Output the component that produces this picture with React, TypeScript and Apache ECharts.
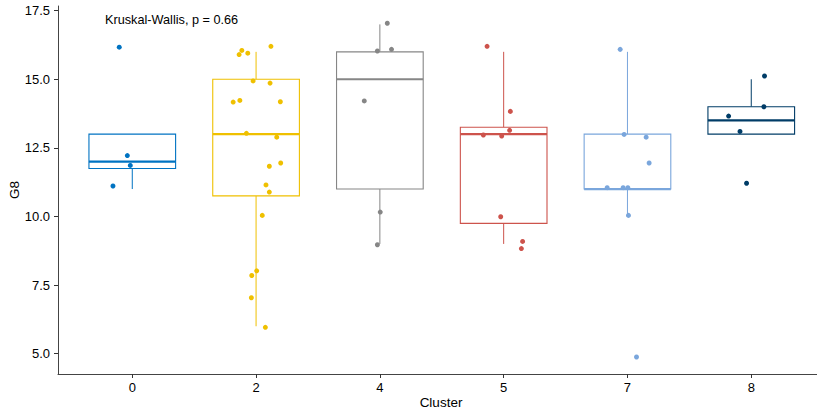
import React, { useEffect, useRef } from "react";
import * as echarts from "echarts";

const clusters = ["0", "2", "4", "5", "7", "8"];
const colors = ["#0073C2", "#EFC000", "#868686", "#CD534C", "#7AA6DC", "#003C67"];

// [lower whisker, Q1, median, Q3, upper whisker]
const boxStats = [
  [11.0, 11.75, 12.0, 13.0, 13.0],
  [6.0, 10.75, 13.0, 15.0, 16.0],
  [9.0, 11.0, 15.0, 16.0, 17.0],
  [9.0, 9.75, 13.0, 13.25, 16.0],
  [10.0, 11.0, 11.0, 13.0, 16.0],
  [13.0, 13.0, 13.5, 14.0, 15.0],
];

// observed G8 values per cluster
const values0 = [16.17, 12.22, 11.86, 11.11];
const values2 = [16.2, 16.05, 15.9, 15.95, 14.94, 14.86, 14.17, 14.23, 14.18, 13.03, 12.89, 11.95, 11.83, 11.15, 10.89, 10.04, 8.02, 7.85, 7.04, 5.96];
const values4 = [17.04, 16.03, 16.09, 14.21, 10.16, 8.97];
const values5 = [16.2, 13.83, 13.14, 12.97, 12.93, 9.99, 9.09, 8.83];
const values7 = [16.09, 12.99, 12.89, 11.95, 11.05, 11.05, 11.05, 10.04, 4.88];
const values8 = [15.12, 14.0, 13.66, 13.1, 11.21];

// horizontal jitter
const jitter0 = [-0.105, -0.04, -0.016, -0.156];
const jitter2 = [0.12, -0.115, -0.137, -0.067, -0.024, 0.113, -0.185, -0.131, 0.196, -0.078, 0.167, 0.199, 0.107, 0.08, 0.107, 0.05, 0.005, -0.035, -0.038, 0.075];
const jitter4 = [0.06, -0.02, 0.094, -0.126, 0.003, -0.02];
const jitter5 = [-0.134, 0.054, 0.048, -0.164, -0.016, -0.024, 0.153, 0.143];
const jitter7 = [-0.059, -0.027, 0.151, 0.175, -0.164, -0.035, 0.003, 0.008, 0.073];
const jitter8 = [0.107, 0.102, -0.183, -0.091, -0.038];

const allValues = [values0, values2, values4, values5, values7, values8];
const allJitter = [jitter0, jitter2, jitter4, jitter5, jitter7, jitter8];

const yTicks = [5, 7.5, 10, 12.5, 15, 17.5];
const xTicks = [0, 1, 2, 3, 4, 5];

const annotation = "Kruskal-Wallis, p = 0.66";

const FONT = "'Liberation Sans', Arial, sans-serif";

export default function App() {
  const ref = useRef<HTMLDivElement>(null);
  useEffect(() => {
    if (!ref.current) return;
    const chart = echarts.init(ref.current, null, { renderer: "svg" });

    const boxData = boxStats.map((s, i) => [i, ...s]);

    const scatterSeries = allValues.map((vals, ci) => ({
      type: "scatter",
      data: vals.map((v, j) => [ci + allJitter[ci][j], v]),
      symbol: "circle",
      symbolSize: 5,
      itemStyle: { color: colors[ci], opacity: 1 },
      z: 5,
    }));

    const option: any = {
      animation: false,
      grid: { left: 58, right: 0, top: 6, bottom: 39 },
      xAxis: {
        type: "value",
        min: -0.6,
        max: 5.531,
        axisLine: { show: true, onZero: false, lineStyle: { color: "#444", width: 1 } },
        axisTick: { show: true, customValues: xTicks, length: 4, lineStyle: { color: "#333" } },
        axisLabel: {
          customValues: xTicks,
          formatter: (v: number) => clusters[Math.round(v)],
          margin: 7,
          fontSize: 13,
          color: "#000",
          fontFamily: FONT,
        },
        splitLine: { show: false },
      },
      yAxis: {
        type: "value",
        min: 4.26,
        max: 17.67,
        axisLine: { show: true, onZero: false, lineStyle: { color: "#444", width: 1 } },
        axisTick: { show: true, customValues: yTicks, length: 4, lineStyle: { color: "#333" } },
        axisLabel: {
          customValues: yTicks,
          formatter: (v: number) => v.toFixed(1),
          margin: 8,
          fontSize: 13,
          color: "#000",
          fontFamily: FONT,
        },
        splitLine: { show: false },
      },
      graphic: [
        {
          type: "text",
          x: 105,
          y: 20,
          style: {
            text: annotation,
            fontSize: 12.7,
            fontFamily: FONT,
            fill: "#000",
            verticalAlign: "middle",
            align: "left",
          },
        },
        {
          type: "text",
          x: 14,
          y: 190,
          rotation: Math.PI / 2,
          style: {
            text: "G8",
            fontSize: 13.5,
            fontFamily: FONT,
            fill: "#000",
            verticalAlign: "middle",
            align: "center",
          },
        },
        {
          type: "text",
          x: 441,
          y: 402,
          style: {
            text: "Cluster",
            fontSize: 13.5,
            fontFamily: FONT,
            fill: "#000",
            verticalAlign: "middle",
            align: "center",
          },
        },
      ],
      series: [
        {
          type: "custom",
          data: boxData,
          encode: { x: 0, y: [1, 2, 3, 4, 5] },
          z: 2,
          renderItem: (params: any, api: any) => {
            const idx = api.value(0);
            const lo = api.coord([idx, api.value(1)]);
            const q1 = api.coord([idx, api.value(2)]);
            const med = api.coord([idx, api.value(3)]);
            const q3 = api.coord([idx, api.value(4)]);
            const hi = api.coord([idx, api.value(5)]);
            const half = api.size([0.35, 0])[0];
            const cx = lo[0];
            const color = colors[params.dataIndex];
            return {
              type: "group",
              children: [
                {
                  type: "line",
                  shape: { x1: cx, y1: hi[1], x2: cx, y2: q3[1] },
                  style: { stroke: color, lineWidth: 1 },
                },
                {
                  type: "line",
                  shape: { x1: cx, y1: q1[1], x2: cx, y2: lo[1] },
                  style: { stroke: color, lineWidth: 1 },
                },
                {
                  type: "rect",
                  shape: { x: cx - half, y: q3[1], width: 2 * half, height: q1[1] - q3[1] },
                  style: { fill: "#fff", stroke: color, lineWidth: 1.1 },
                },
                {
                  type: "line",
                  shape: { x1: cx - half, y1: med[1], x2: cx + half, y2: med[1] },
                  style: { stroke: color, lineWidth: 2.2 },
                },
              ],
            };
          },
        },
        ...scatterSeries,
      ],
    };

    chart.setOption(option);
    return () => chart.dispose();
  }, []);

  return (
    <div
      ref={ref}
      style={{ position: "absolute", left: 0, top: 0, width: 817, height: 413, background: "#fff" }}
    />
  );
}
